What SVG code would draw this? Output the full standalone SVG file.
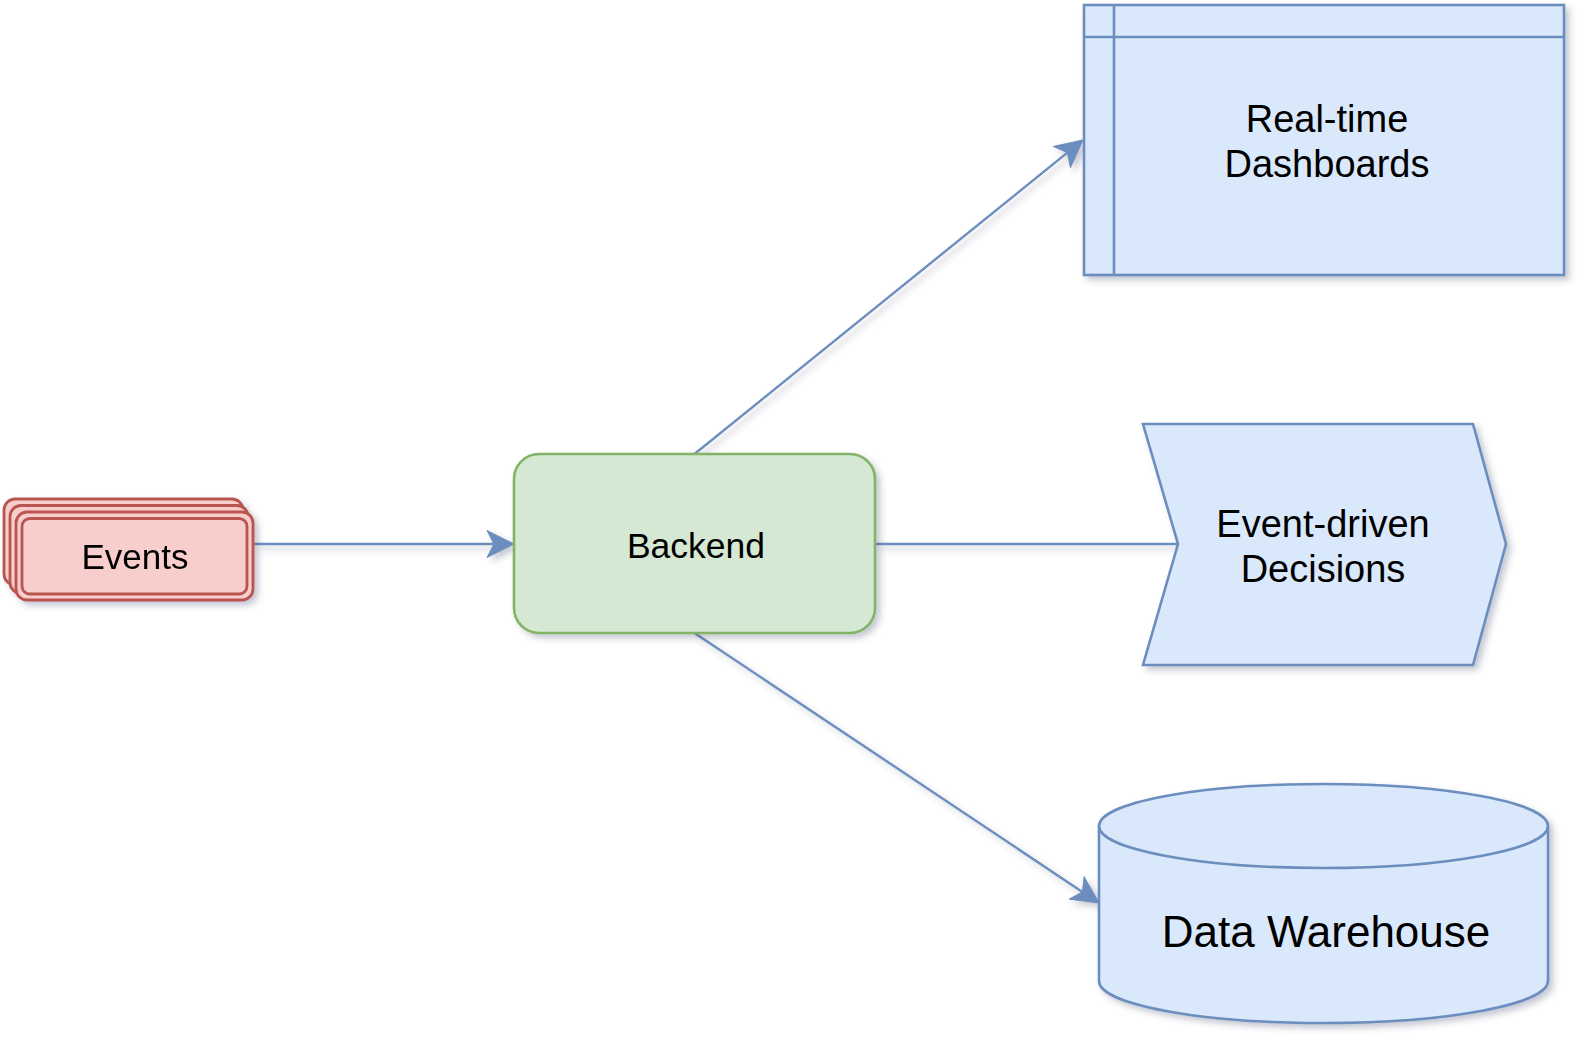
<svg xmlns="http://www.w3.org/2000/svg" width="1587" height="1047" viewBox="0 0 1587 1047">
<style>
.blue{fill:#dae8fc;stroke:#6c8ebf;stroke-width:2.6}
.red{fill:#f8cecc;stroke:#b85450;stroke-width:2.8}
.green{fill:#d5e8d4;stroke:#82b366;stroke-width:2.6}
.edge{fill:none;stroke:#6c8ebf;stroke-width:2.4}
.lbl{font-family:"Liberation Sans",Arial,Helvetica,sans-serif;fill:#000;text-anchor:middle}
</style>
<defs>
<filter id="sh" x="-10%" y="-10%" width="130%" height="130%">
<feDropShadow dx="4" dy="4" stdDeviation="3" flood-color="#3c4a6b" flood-opacity="0.3"/>
</filter>
<marker id="arr" markerUnits="userSpaceOnUse" viewBox="-28 -14 30 28" markerWidth="30" markerHeight="28" refX="-20" refY="0" orient="auto">
<path d="M0,0 L-27,-13.5 L-20,0 L-27,13.5 Z" fill="#6c8ebf" stroke="#6c8ebf" stroke-width="1"/>
</marker>
</defs>
<rect width="1587" height="1047" fill="#ffffff"/>
<g id="connectors" filter="url(#sh)">
<line class="edge" x1="253" y1="544" x2="494" y2="544" marker-end="url(#arr)"/>
<line class="edge" x1="694.5" y1="454" x2="1067.4" y2="152.6" marker-end="url(#arr)"/>
<line class="edge" x1="875" y1="544" x2="1196" y2="544" marker-end="url(#arr)"/>
<line class="edge" x1="694.5" y1="633" x2="1082.4" y2="891.9" marker-end="url(#arr)"/>
</g>
<g id="events" filter="url(#sh)">
<rect class="red" x="4" y="499" width="239" height="86" rx="11"/>
<rect class="red" x="10" y="505.5" width="238" height="88" rx="11"/>
<rect class="red" x="16" y="512" width="237" height="88" rx="11"/>
<rect class="red" x="22" y="518.5" width="225" height="75.5" rx="8"/>
<text class="lbl" x="135" y="569" font-size="35">Events</text>
</g>
<g id="backend">
<rect class="green" x="514" y="454" width="361" height="179" rx="25" filter="url(#sh)"/>
<text class="lbl" x="696" y="558" font-size="35.5">Backend</text>
</g>
<g id="dashboards">
<rect class="blue" x="1084" y="5" width="480" height="270" filter="url(#sh)"/>
<line x1="1084" y1="37" x2="1564" y2="37" stroke="#6c8ebf" stroke-width="2.6"/>
<line x1="1114" y1="5" x2="1114" y2="275" stroke="#6c8ebf" stroke-width="2.6"/>
<text class="lbl" x="1327" y="132" font-size="38">Real-time</text>
<text class="lbl" x="1327" y="177" font-size="38">Dashboards</text>
</g>
<g id="decisions">
<polygon class="blue" points="1143,424 1473,424 1506,544 1473,665 1143,665 1178,544" filter="url(#sh)"/>
<text class="lbl" x="1323" y="537" font-size="38">Event-driven</text>
<text class="lbl" x="1323" y="582" font-size="38">Decisions</text>
</g>
<g id="warehouse">
<path class="blue" d="M1099,826 A224.5,42 0 0 1 1548,826 L1548,981 A224.5,42 0 0 1 1099,981 Z" filter="url(#sh)"/>
<path d="M1099,826 A224.5,42 0 0 0 1548,826" fill="none" stroke="#6c8ebf" stroke-width="2.6"/>
<text class="lbl" x="1326" y="947" font-size="44">Data Warehouse</text>
</g>
</svg>
